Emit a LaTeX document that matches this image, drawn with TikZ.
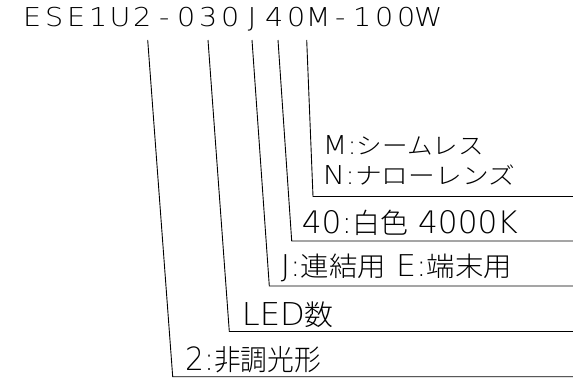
\documentclass[tikz,border=0pt]{standalone}
\usepackage{fontspec}
\usepackage{graphicx}
\IfFontExistsTF{DejaVu Sans ExtraLight}{\setmainfont{DejaVu Sans ExtraLight}}{%
  \IfFontExistsTF{Lato Light}{\setmainfont{Lato Light}}{\setmainfont{DejaVu Sans Mono}}}
\IfFontExistsTF{Noto Sans CJK JP Light}{\newfontfamily\jp[Scale=0.9]{Noto Sans CJK JP Light}}{%
  \newfontfamily\jp[Scale=0.9]{Noto Sans CJK JP}}
\newcommand\fitw[2]{\resizebox{#1pt}{\height}{#2}}
\newlength\cw
\makeatletter
\def\mono#1{\mono@#1\@nil}
\def\mono@#1{\ifx#1\@nil\else\makebox[\cw][c]{\scalebox{1.1}[1]{#1}}\expandafter\mono@\fi}
\makeatother
\begin{document}
\begin{tikzpicture}[x=1pt,y=-1pt,
  lbl/.style={anchor=base west,inner sep=0pt},
  lead/.style={line width=0.9pt,black}]
\useasboundingbox (0,0) rectangle (573,383);
\fill[white] (0,0) rectangle (573,383);
% title
\node[lbl] (title) at (21,26) {\fontsize{26}{26}\selectfont\setlength\cw{22pt}\mono{ESE1U2-030J40M-100W}};
% labels
\node[lbl] (m) at (322.7,154) {\fitw{161}{\fontsize{26}{26}\selectfont M:{\jp シームレス}}};
\node[lbl] (n) at (322.7,184) {\fitw{192}{\fontsize{26}{26}\selectfont N:{\jp ナローレンズ}}};
\node[lbl] (col) at (301.7,233) {\fitw{216}{\fontsize{31}{31}\selectfont 40:{\jp 白色} 4000K}};
\node[lbl] (con) at (280.7,276.7) {\fitw{231}{\fontsize{30}{30}\selectfont J:{\jp 連結用} E:{\jp 端末用}}};
\node[lbl] (led) at (241.7,325) {\fitw{92}{\fontsize{31.5}{31.5}\selectfont LED{\jp 数}}};
\node[lbl] (dim) at (185,370) {\fitw{136}{\fontsize{32}{32}\selectfont 2:{\jp 非調光形}}};
% leader coordinates
\coordinate (t1) at (147.7,40);  \coordinate (c1) at (172.7,376.7); \coordinate (e1) at (573,376.7);
\coordinate (t2) at (208,40);    \coordinate (c2) at (229.3,331.5); \coordinate (e2) at (573,331.5);
\coordinate (t3) at (252,40);    \coordinate (c3) at (269.3,286);   \coordinate (e3) at (573,286);
\coordinate (t4) at (278,40);    \coordinate (c4) at (291.7,241);   \coordinate (e4) at (573,241);
\coordinate (t5) at (306.7,40);  \coordinate (c5) at (313,196.5);   \coordinate (e5) at (573,196.5);
\draw[lead] (t1) -- (c1) -- (e1);
\draw[lead] (t2) -- (c2) -- (e2);
\draw[lead] (t3) -- (c3) -- (e3);
\draw[lead] (t4) -- (c4) -- (e4);
\draw[lead] (t5) -- (c5) -- (e5);
\end{tikzpicture}
\end{document}
